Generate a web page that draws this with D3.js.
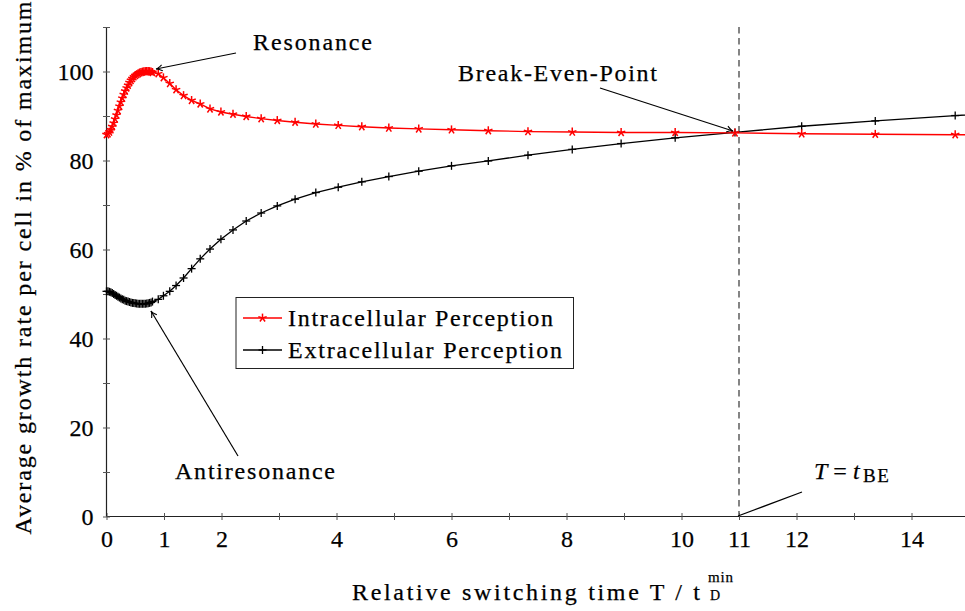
<!DOCTYPE html>
<html><head><meta charset="utf-8">
<script src="https://cdn.jsdelivr.net/npm/d3@7/dist/d3.min.js"></script>
<style>
body{margin:0;background:#fff}
svg{display:block}
svg text{font-family:"Liberation Serif","DejaVu Serif","Noto Serif",serif !important;fill:#000;stroke:#000;stroke-width:0.25px}
</style>
</head><body>
<svg id="chart" width="965" height="611"></svg>
<script>
// ---- data ----
const switchingTime = [
  0,0.025,0.05,0.075,0.1,0.125,0.15,0.175,0.2,0.225,0.25,0.275,0.3,0.325,0.35,0.375,0.4,
  0.425,0.45,0.475,0.5,0.525,0.55,0.575,0.6,0.625,0.65,0.675,0.7,0.725,0.75,0.775,0.8,
  0.90,0.99,1.10,1.21,1.34,1.48,1.63,1.80,1.99,2.20,2.43,2.69,2.97,3.28,3.64,4.03,4.44,
  4.91,5.43,6.00,6.64,7.33,8.10,8.95,9.89,10.93,12.09,13.37,14.76,16.31
];
const intracellular = [
  85.8,86.0,86.4,86.9,87.6,88.4,89.3,90.2,91.2,92.2,93.1,94.0,94.8,95.6,96.3,96.9,97.5,
  98.0,98.4,98.8,99.1,99.3,99.5,99.7,99.8,99.9,99.95,100,100,100,100,99.9,99.8,
  99.5,98.6,97.3,95.9,94.6,93.5,92.7,91.6,90.9,90.4,89.9,89.4,89.0,88.6,88.2,87.9,87.6,
  87.3,87.1,86.9,86.7,86.5,86.4,86.3,86.3,86.2,86.0,85.9,85.8,85.7
];
const extracellular = [
  50.6,50.6,50.5,50.4,50.2,50.0,49.8,49.6,49.4,49.2,49.0,48.8,48.7,48.5,48.4,48.3,48.2,
  48.1,48.0,47.95,47.9,47.85,47.8,47.8,47.8,47.8,47.8,47.8,47.85,47.9,48.0,48.1,48.3,
  48.8,49.6,50.6,51.9,53.6,55.7,57.9,60.1,62.3,64.4,66.4,68.2,69.8,71.3,72.8,74.0,75.2,
  76.4,77.6,78.8,79.9,81.2,82.5,83.8,85.1,86.3,87.7,88.9,90.1,91.2
];
const xTicks = [0,1,2,3,4,5,6,7,8,9,10,11,12,13,14];
const xTickLabels = [0,1,2,4,6,8,10,11,12,14];
const yTicks = [0,10,20,30,40,50,60,70,80,90,100,110];
const yTickLabels = [0,20,40,60,80,100];
const breakEvenTime = 11;
const seriesNames = ["Intracellular Perception","Extracellular Perception"];

// ---- layout ----
const FONT = '"Liberation Serif","DejaVu Serif","Noto Serif",serif';
const svg = d3.select("#chart").attr("font-family",FONT);
const x = d3.scaleLinear().domain([0,15]).range([106.5,969]);
const y = d3.scaleLinear().domain([0,110]).range([516.5,27]);

// dashed break-even line
svg.append("line")
  .attr("x1",x(breakEvenTime)).attr("x2",x(breakEvenTime))
  .attr("y1",y(110)).attr("y2",y(0))
  .attr("stroke","#222").attr("stroke-width",1.1).attr("stroke-dasharray","6.5,4.5");

// axes
const xAxis = svg.append("g").attr("transform",`translate(0,${y(0)})`)
  .call(d3.axisBottom(x).tickValues(xTicks).tickSize(3.5)
    .tickFormat(d => xTickLabels.includes(d) ? d : ""));
xAxis.attr("font-family",FONT);
xAxis.select(".domain").attr("stroke","#222").attr("stroke-width",1.2).attr("d",`M${x(0)},0H${x(15)}`);
xAxis.selectAll(".tick line").attr("y1",-3.5).attr("y2",3.5).attr("stroke","#555");
xAxis.selectAll(".tick text").attr("y",30).attr("dy",0).style("font-size","24px");

const yAxis = svg.append("g").attr("transform",`translate(${x(0)},0)`)
  .call(d3.axisLeft(y).tickValues(yTicks).tickSize(3.5)
    .tickFormat(d => yTickLabels.includes(d) ? d : ""));
yAxis.attr("font-family",FONT);
yAxis.select(".domain").attr("stroke","#222").attr("stroke-width",1.2).attr("d",`M0,${y(0)}V${y(110)}`);
yAxis.selectAll(".tick line").attr("x1",-3.5).attr("x2",3.5).attr("stroke","#555");
yAxis.selectAll(".tick text").attr("x",-13).attr("dy","0.34em").style("font-size","24px");

// series
const line = d3.line().x(d=>x(d[0])).y(d=>y(d[1]));
const redData = switchingTime.map((t,i)=>[t,intracellular[i]]);
const blackData = switchingTime.map((t,i)=>[t,extracellular[i]]);

function starMark(g, cx, cy, r, color){
  for(let k=0;k<5;k++){
    const a = (90 + 72*k) * Math.PI/180;
    g.append("line").attr("x1",cx).attr("y1",cy)
      .attr("x2",cx + r*Math.cos(a)).attr("y2",cy - r*Math.sin(a))
      .attr("stroke",color).attr("stroke-width",1.5);
  }
}
function plusMark(g, cx, cy, r, color){
  g.append("line").attr("x1",cx-r).attr("x2",cx+r).attr("y1",cy).attr("y2",cy)
    .attr("stroke",color).attr("stroke-width",1.3);
  g.append("line").attr("x1",cx).attr("x2",cx).attr("y1",cy-r).attr("y2",cy+r)
    .attr("stroke",color).attr("stroke-width",1.3);
}

const gBlack = svg.append("g");
gBlack.append("path").datum(blackData).attr("d",line)
  .attr("fill","none").attr("stroke","#000").attr("stroke-width",1.3);
blackData.forEach(d => plusMark(gBlack, x(d[0]), y(d[1]), 4, "#000"));

const gRed = svg.append("g");
gRed.append("path").datum(redData).attr("d",line)
  .attr("fill","none").attr("stroke","#ff0000").attr("stroke-width",1.4);
redData.forEach(d => starMark(gRed, x(d[0]), y(d[1]), 4.4, "#ff0000"));

// legend
const lg = svg.append("g");
lg.append("rect").attr("x",236).attr("y",297.5).attr("width",337.5).attr("height",71)
  .attr("fill","#fff").attr("stroke","#222").attr("stroke-width",1);
lg.append("line").attr("x1",243).attr("x2",282).attr("y1",318).attr("y2",318)
  .attr("stroke","#ff0000").attr("stroke-width",1.4);
starMark(lg,262.5,318,4.4,"#ff0000");
lg.append("line").attr("x1",243).attr("x2",282).attr("y1",350).attr("y2",350)
  .attr("stroke","#000").attr("stroke-width",1.3);
plusMark(lg,262.5,350,4,"#000");
lg.append("text").attr("x",288).attr("y",325.5).style("font-size","24px")
  .attr("textLength",265).attr("lengthAdjust","spacing").text(seriesNames[0]);
lg.append("text").attr("x",288).attr("y",357.5).style("font-size","24px")
  .attr("textLength",274).attr("lengthAdjust","spacing").text(seriesNames[1]);

// annotations
function arrow(x1,y1,x2,y2,head){
  svg.append("line").attr("x1",x1).attr("y1",y1).attr("x2",x2).attr("y2",y2)
    .attr("stroke","#000").attr("stroke-width",1.2);
  if(head){
    const ang = Math.atan2(y2-y1,x2-x1), L = 7, s = 0.45;
    const p = (a)=>[x2 - L*Math.cos(ang+a), y2 - L*Math.sin(ang+a)];
    const a1 = p(s), a2 = p(-s);
    svg.append("path")
      .attr("d",`M${a1[0]},${a1[1]}Q${x2-2*Math.cos(ang)},${y2-2*Math.sin(ang)} ${x2},${y2}Q${x2-2*Math.cos(ang)},${y2-2*Math.sin(ang)} ${a2[0]},${a2[1]}`)
      .attr("fill","none").attr("stroke","#000").attr("stroke-width",1.1);
  }
}
svg.append("text").attr("x",253).attr("y",50).style("font-size","24px")
  .attr("textLength",119).attr("lengthAdjust","spacing").text("Resonance");
arrow(236,53,156,69,true);

svg.append("text").attr("x",458).attr("y",81).style("font-size","24px")
  .attr("textLength",199).attr("lengthAdjust","spacing").text("Break-Even-Point");
arrow(600,88,733,131,true);

svg.append("text").attr("x",175).attr("y",479).style("font-size","24px")
  .attr("textLength",160).attr("lengthAdjust","spacing").text("Antiresonance");
arrow(238,456,151,311,true);

const tbe = svg.append("text").attr("x",814).attr("y",479).style("font-size","24px");
tbe.append("tspan").style("font-style","italic").text("T");
tbe.append("tspan").attr("dx",6).text("=");
tbe.append("tspan").attr("dx",6).style("font-style","italic").text("t");
svg.append("text").attr("x",863).attr("y",482).style("font-size","19px")
  .style("letter-spacing","1.5px").text("BE");
arrow(802,492,738,516,false);

// axis titles
svg.append("text").attr("x",352).attr("y",599.5).style("font-size","24px")
  .attr("textLength",348).attr("lengthAdjust","spacing").text("Relative switching time T / t");
svg.append("text").attr("x",708).attr("y",582).style("font-size","15px")
  .attr("textLength",25).attr("lengthAdjust","spacing").text("min");
svg.append("text").attr("x",710).attr("y",599.5).style("font-size","14px").text("D");

svg.append("text").attr("transform","translate(31,268) rotate(-90)")
  .attr("text-anchor","middle").style("font-size","24px")
  .attr("textLength",533).attr("lengthAdjust","spacing")
  .text("Average growth rate per cell in % of maximum");
</script>
</body></html>
